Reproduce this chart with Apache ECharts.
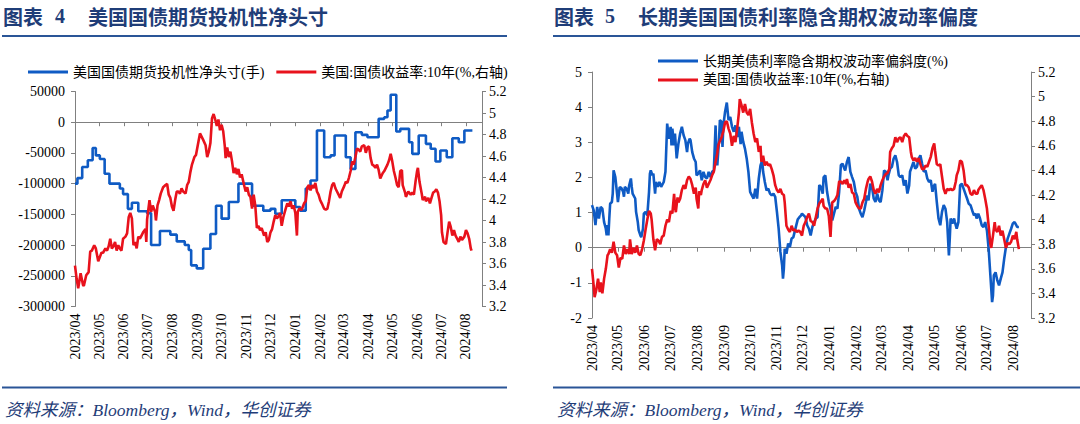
<!DOCTYPE html>
<html><head><meta charset="utf-8">
<script src="https://cdn.jsdelivr.net/npm/echarts@6.0.0/dist/echarts.min.js"></script>
<style>html,body{margin:0;padding:0;background:#fff}#c{width:1080px;height:424px}</style>
</head><body><div id="c"></div>
<script>
// ---- data (x = days counted from 2023-04-01) ----
const BASE_Y = 2023, BASE_M = 3, BASE_D = 1;
const X_END = '2024-08-21';

// 图表4: 美国国债期货投机性净头寸(手), weekly, held until next report
const netPosition = [[0,-100000],[3,-91000],[9,-73000],[16,-62000],[22,-42000],[26,-54000],[31,-60000],[37,-84000],[43,-100000],[56,-108000],[60,-117000],[66,-141000],[71,-131000],[79,-145000],[90,-148000],[95,-200000],[106,-177000],[119,-183000],[127,-194000],[137,-200000],[142,-208000],[145,-233000],[152,-238000],[160,-206000],[169,-182000],[176,-136000],[183,-157000],[192,-130000],[204,-100000],[221,-136000],[235,-144000],[244,-141000],[250,-149000],[258,-127000],[275,-138000],[281,-144000],[288,-108000],[294,-95000],[302,-13500],[311,-57000],[319,-54000],[324,-21700],[338,-57000],[344,-76000],[350,-16300],[358,-20600],[365,-24400],[379,5500],[386,8200],[390,19000],[394,44600],[401,-15100],[406,-10800],[417,-32500],[421,-51500],[429,-21700],[438,-35200],[444,-43300],[450,-64000],[456,-46000],[464,-57000],[471,-26000],[479,-32500],[486,-13500],[496,-13500]];

// 图表4: 美国:国债收益率:10年(%)
const yieldLeft = [[0,3.58],[2,3.46],[4,3.37],[7,3.51],[10,3.40],[11,3.39],[14,3.49],[17,3.52],[19,3.71],[21,3.72],[24,3.77],[26,3.74],[29,3.62],[33,3.70],[35,3.70],[38,3.74],[40,3.72],[42,3.76],[44,3.83],[46,3.74],[48,3.76],[50,3.80],[52,3.72],[54,3.77],[56,3.74],[58,3.72],[60,3.83],[63,3.85],[65,3.88],[67,4.03],[69,4.07],[71,4.02],[73,3.77],[75,3.80],[77,3.74],[79,3.85],[81,3.83],[83,3.86],[85,3.89],[88,3.92],[89,3.80],[90,4.01],[93,4.19],[95,4.08],[97,4.14],[100,4.08],[101,4.00],[103,4.14],[105,4.19],[107,4.25],[110,4.31],[113,4.33],[115,4.34],[117,4.24],[119,4.21],[121,4.13],[123,4.09],[125,4.19],[127,4.27],[129,4.27],[131,4.25],[133,4.30],[135,4.27],[138,4.25],[140,4.33],[142,4.36],[144,4.45],[146,4.52],[149,4.59],[151,4.61],[154,4.73],[156,4.81],[158,4.78],[160,4.75],[163,4.70],[165,4.59],[167,4.64],[169,4.72],[171,4.95],[173,4.99],[175,4.94],[177,4.88],[179,4.94],[181,4.84],[183,4.89],[185,4.83],[187,4.69],[188,4.58],[190,4.68],[192,4.59],[194,4.64],[196,4.55],[198,4.44],[200,4.49],[202,4.43],[204,4.48],[206,4.40],[208,4.43],[211,4.33],[213,4.27],[215,4.31],[217,4.24],[219,4.22],[221,4.11],[223,4.24],[225,4.14],[227,3.93],[229,3.95],[231,3.91],[233,3.93],[236,3.86],[238,3.89],[240,3.80],[242,3.82],[244,3.89],[246,3.92],[248,3.99],[250,4.05],[252,4.02],[254,4.04],[256,4.07],[258,3.95],[260,4.03],[263,4.11],[265,4.16],[267,4.13],[269,4.18],[271,4.11],[273,4.14],[275,4.07],[277,3.86],[278,4.08],[280,4.11],[283,4.10],[286,4.16],[288,4.18],[290,4.31],[292,4.33],[294,4.28],[296,4.33],[298,4.30],[300,4.35],[302,4.27],[304,4.24],[306,4.19],[308,4.16],[311,4.11],[313,4.10],[315,4.11],[317,4.18],[319,4.27],[321,4.33],[323,4.35],[325,4.30],[327,4.27],[329,4.24],[331,4.21],[333,4.27],[336,4.32],[338,4.36],[340,4.35],[342,4.40],[344,4.46],[346,4.55],[348,4.52],[350,4.59],[352,4.67],[354,4.66],[356,4.64],[358,4.69],[361,4.70],[363,4.63],[365,4.68],[367,4.69],[369,4.58],[371,4.52],[373,4.51],[375,4.49],[377,4.52],[379,4.47],[381,4.39],[384,4.44],[386,4.46],[388,4.49],[390,4.52],[392,4.56],[394,4.62],[396,4.55],[398,4.46],[400,4.40],[402,4.33],[404,4.31],[406,4.46],[408,4.47],[409,4.33],[412,4.26],[413,4.22],[416,4.27],[419,4.24],[421,4.26],[423,4.24],[425,4.36],[427,4.46],[428,4.49],[430,4.36],[433,4.24],[434,4.19],[437,4.22],[438,4.18],[441,4.21],[443,4.16],[445,4.21],[447,4.26],[449,4.27],[451,4.29],[453,4.26],[455,4.18],[457,4.05],[458,3.89],[460,3.80],[463,3.78],[465,3.89],[467,3.99],[469,3.94],[471,3.86],[473,3.91],[475,3.86],[477,3.83],[479,3.80],[481,3.85],[483,3.82],[486,3.85],[488,3.91],[490,3.88],[492,3.83],[494,3.74],[495,3.72]];

// 图表5: 长期美债利率隐含期权波动率偏斜度(%)
const skewRight = [[0,1.21],[2,1.06],[4,0.64],[6,1.16],[8,0.83],[10,1.16],[12,1.11],[14,0.73],[16,0.54],[17,0.35],[18,0.64],[19,0.35],[20,0.83],[21,1.25],[23,1.30],[24,1.54],[25,2.20],[27,2.01],[29,1.54],[30,1.30],[32,1.72],[34,1.70],[36,1.59],[37,1.45],[38,1.73],[40,1.68],[42,1.54],[43,1.77],[45,1.97],[46,1.73],[47,1.54],[50,1.40],[51,1.02],[53,0.73],[54,0.50],[56,0.35],[57,0.30],[59,0.54],[60,0.97],[62,1.02],[64,0.92],[66,1.59],[67,2.10],[68,2.20],[70,2.06],[71,2.11],[73,1.54],[74,1.87],[76,1.73],[78,1.87],[80,1.73],[83,1.87],[85,2.16],[87,3.53],[89,3.10],[91,3.44],[92,2.91],[93,3.39],[95,2.91],[96,3.25],[98,2.54],[100,2.96],[102,3.25],[104,3.44],[106,3.20],[108,3.06],[110,2.72],[111,2.96],[113,3.10],[114,3.06],[116,2.72],[118,2.54],[120,2.44],[121,2.06],[123,2.11],[125,2.20],[127,1.92],[129,2.16],[131,2.01],[133,1.97],[135,2.16],[137,2.01],[139,2.16],[141,2.20],[143,3.48],[144,2.63],[145,2.34],[147,3.06],[148,3.63],[150,3.58],[151,2.87],[152,3.48],[154,3.87],[156,4.13],[158,3.63],[160,3.72],[162,3.44],[164,3.30],[166,3.48],[168,3.15],[170,3.44],[172,2.95],[173,3.30],[175,3.01],[177,2.82],[179,2.54],[181,2.16],[183,1.59],[185,1.49],[187,1.40],[189,1.68],[191,1.40],[193,1.97],[195,2.34],[197,2.49],[198,2.16],[200,1.87],[202,1.63],[204,1.68],[206,1.54],[208,1.49],[210,1.54],[212,1.45],[214,1.02],[216,0.54],[218,-0.12],[220,-0.50],[221,-0.88],[222,-0.60],[223,-0.03],[225,-0.17],[227,0.12],[229,0.02],[231,0.26],[233,0.30],[235,0.50],[236,0.60],[238,0.80],[240,0.87],[242,0.92],[243,0.97],[245,0.92],[247,0.87],[249,0.64],[251,0.54],[253,0.35],[255,0.59],[257,0.73],[259,0.83],[261,0.87],[263,1.78],[265,1.73],[267,1.54],[268,2.00],[270,2.06],[272,1.59],[274,1.30],[276,1.11],[278,0.78],[280,0.97],[282,1.16],[284,1.11],[286,1.59],[288,2.35],[290,2.39],[292,2.25],[293,2.20],[295,2.44],[297,2.58],[299,2.16],[301,2.01],[303,1.87],[305,1.59],[307,1.45],[309,1.11],[311,0.97],[313,0.87],[315,1.06],[317,1.30],[318,1.49],[320,1.35],[322,1.82],[324,1.73],[326,1.40],[328,1.30],[330,1.54],[332,1.35],[334,1.30],[336,1.63],[338,2.20],[340,2.16],[342,1.92],[343,2.06],[345,2.25],[347,2.30],[349,2.53],[351,2.63],[353,2.44],[355,2.06],[357,2.01],[359,2.06],[361,1.77],[363,1.92],[365,1.54],[367,1.77],[368,2.16],[370,2.30],[372,2.44],[374,2.25],[376,2.30],[378,2.53],[380,2.63],[382,2.39],[384,2.16],[386,2.20],[388,1.97],[390,1.87],[392,1.92],[394,1.59],[395,1.73],[397,1.82],[399,1.30],[401,0.83],[403,0.64],[405,1.02],[407,1.21],[409,1.11],[411,0.73],[413,-0.22],[414,0.26],[415,0.83],[417,0.69],[419,0.83],[420,0.73],[422,0.54],[424,0.73],[426,1.78],[428,1.82],[430,1.68],[432,1.54],[434,1.40],[436,1.25],[438,1.21],[440,1.06],[442,0.92],[444,0.97],[445,0.83],[447,0.97],[449,0.83],[451,0.64],[453,0.59],[455,0.73],[457,0.49],[459,-0.03],[461,-0.79],[463,-1.55],[464,-1.36],[465,-0.79],[467,-0.70],[469,-0.93],[471,-1.07],[473,-0.88],[475,-0.70],[477,-0.31],[479,0.02],[481,0.26],[483,0.40],[485,0.54],[487,0.69],[489,0.73],[491,0.64],[492,0.59],[494,0.59]];

// 图表5: 美国:国债收益率:10年(%)
const yieldRight = [[0,3.60],[2,3.46],[3,3.37],[5,3.43],[7,3.52],[9,3.41],[10,3.49],[12,3.40],[14,3.52],[16,3.60],[18,3.71],[19,3.72],[21,3.76],[23,3.73],[25,3.82],[27,3.73],[29,3.71],[31,3.61],[33,3.69],[35,3.68],[37,3.79],[39,3.72],[41,3.76],[43,3.72],[44,3.84],[46,3.72],[48,3.77],[50,3.73],[52,3.79],[54,3.72],[56,3.71],[58,3.76],[60,3.83],[62,3.92],[64,4.00],[66,4.07],[68,4.05],[69,4.00],[70,3.92],[71,3.84],[73,3.75],[75,3.84],[77,3.83],[79,3.80],[81,3.86],[83,3.87],[85,3.95],[87,4.00],[89,3.98],[91,4.07],[93,4.05],[95,4.21],[96,4.11],[97,4.06],[99,4.18],[100,4.14],[102,4.17],[104,4.24],[106,4.28],[108,4.25],[110,4.32],[112,4.35],[114,4.33],[116,4.28],[118,4.21],[120,4.26],[121,4.17],[123,4.09],[124,4.23],[126,4.20],[127,4.24],[129,4.29],[131,4.32],[133,4.26],[135,4.29],[137,4.32],[139,4.36],[141,4.39],[143,4.47],[145,4.54],[146,4.60],[148,4.64],[150,4.67],[152,4.72],[154,4.79],[156,4.80],[158,4.74],[160,4.70],[162,4.60],[164,4.68],[166,4.63],[168,4.74],[170,4.87],[171,4.98],[173,4.93],[175,4.87],[177,4.94],[179,4.87],[181,4.85],[183,4.90],[185,4.79],[187,4.70],[189,4.63],[191,4.66],[193,4.55],[195,4.60],[196,4.47],[198,4.52],[200,4.44],[202,4.47],[204,4.44],[206,4.45],[208,4.41],[210,4.36],[212,4.28],[214,4.24],[216,4.22],[218,4.25],[220,4.21],[222,4.20],[223,4.14],[225,3.95],[227,3.92],[229,3.90],[231,3.95],[233,3.91],[235,3.92],[237,3.90],[239,3.91],[241,3.90],[243,3.87],[245,3.95],[247,3.98],[249,4.02],[251,4.05],[253,3.99],[255,3.98],[257,3.95],[259,4.02],[261,4.09],[263,4.13],[265,4.15],[267,4.17],[268,4.11],[270,4.09],[272,4.09],[274,4.03],[276,3.86],[278,4.14],[280,4.15],[282,4.17],[284,4.20],[286,4.31],[288,4.31],[290,4.29],[292,4.32],[294,4.29],[295,4.33],[297,4.26],[299,4.29],[301,4.22],[303,4.21],[305,4.14],[307,4.11],[309,4.09],[311,4.09],[313,4.14],[315,4.17],[317,4.25],[319,4.31],[320,4.33],[322,4.35],[324,4.31],[326,4.24],[328,4.21],[330,4.25],[332,4.22],[334,4.28],[336,4.32],[338,4.35],[340,4.37],[342,4.38],[344,4.41],[345,4.55],[347,4.58],[349,4.60],[351,4.67],[353,4.63],[355,4.66],[357,4.67],[359,4.63],[361,4.68],[363,4.70],[365,4.68],[367,4.67],[369,4.55],[370,4.51],[372,4.48],[374,4.50],[376,4.47],[378,4.50],[380,4.45],[382,4.41],[384,4.41],[386,4.44],[388,4.43],[390,4.47],[392,4.51],[394,4.58],[396,4.62],[397,4.56],[399,4.45],[401,4.44],[403,4.45],[405,4.35],[407,4.25],[409,4.21],[411,4.25],[413,4.24],[415,4.25],[417,4.24],[419,4.25],[421,4.31],[422,4.36],[424,4.40],[426,4.48],[428,4.47],[430,4.40],[432,4.28],[434,4.28],[436,4.26],[438,4.21],[440,4.20],[442,4.24],[444,4.21],[446,4.21],[447,4.24],[449,4.26],[451,4.28],[453,4.24],[455,4.17],[457,4.09],[459,3.95],[461,3.80],[462,3.77],[464,3.87],[466,3.98],[467,3.92],[469,3.90],[471,3.95],[473,3.87],[475,3.91],[477,3.84],[479,3.77],[481,3.81],[483,3.80],[485,3.82],[487,3.87],[489,3.84],[491,3.90],[492,3.84],[494,3.76]];

const NAME_POS = '美国国债期货投机性净头寸(手)';
const NAME_YLD = '美国:国债收益率:10年(%,右轴)';
const NAME_SKEW = '长期美债利率隐含期权波动率偏斜度(%)';

// ---- rendering ----
const DAY = 86400000;
const toTime = d => new Date(BASE_Y, BASE_M, BASE_D + d).getTime();
const toSeries = arr => arr.map(p => [toTime(p[0]), p[1]]);
const xMin = toTime(0);
const xMax = new Date(X_END + 'T00:00:00').getTime();

const SERIF = '"Liberation Serif","Times New Roman","Noto Sans CJK SC",serif';
const BLUE = '#0F5BC4', RED = '#E8121C', NAVY = '#1F3D78', RULE = '#2A5597', AXIS = '#808080';

const fmtMonth = v => { const d = new Date(v); return d.getFullYear() + '/' + String(d.getMonth() + 1).padStart(2, '0'); };

function xPair(g) {
  const common = { type: 'time', gridIndex: g, min: xMin, max: xMax, splitNumber: 17,
    minInterval: 28 * DAY, maxInterval: 31 * DAY, splitLine: { show: false } };
  return [
    Object.assign({}, common, { position: 'bottom', axisLine: { show: false, onZero: false }, axisTick: { show: false },
      axisLabel: { rotate: 90, margin: 7, fontFamily: SERIF, fontSize: 14, color: '#000', formatter: fmtMonth, hideOverlap: false } }),
    Object.assign({}, common, { position: 'bottom', axisLine: { show: true, onZero: true, lineStyle: { color: AXIS, width: 1 } },
      axisTick: { show: true, length: 4, lineStyle: { color: AXIS } }, axisLabel: { show: false } })
  ];
}
function yAx(g, pos, min, max, interval, fmt, margin) {
  return { type: 'value', gridIndex: g, position: pos, min: min, max: max, interval: interval,
    axisLine: { show: true, onZero: false, lineStyle: { color: AXIS, width: 1 } },
    axisTick: { show: true, length: 4, lineStyle: { color: AXIS } }, splitLine: { show: false },
    axisLabel: { margin: margin, fontFamily: SERIF, fontSize: 14, color: '#000', formatter: fmt } };
}
const fmtInt = v => String(Math.round(v));
const fmtDec = v => String(Math.round(v * 10) / 10);

function line(name, data, xi, yi, color, step) {
  return { name: name, type: 'line', xAxisIndex: xi, yAxisIndex: yi, data: toSeries(data), step: step || false,
    symbol: 'none', showSymbol: false, animation: false, lineStyle: { width: 2.6, color: color },
    itemStyle: { color: color }, emphasis: { disabled: true } };
}
function txt(x, y, text, font) {
  return { type: 'text', x: x, y: y, style: { text: text, font: font, fill: NAVY, textVerticalAlign: 'middle', verticalAlign: 'middle' } };
}
function rule(x1, x2, y) {
  return { type: 'line', shape: { x1: x1, y1: y, x2: x2, y2: y }, style: { stroke: RULE, lineWidth: 2 } };
}
const TF = 'bold 20px "Noto Sans CJK SC",sans-serif';
const NF = 'bold 20px "Liberation Serif",serif';
const FF = 'italic 17.5px "Liberation Serif","Noto Sans CJK SC",serif';
const LEG = { icon: 'rect', itemWidth: 40, itemHeight: 3, selectedMode: false,
  textStyle: { fontFamily: SERIF, fontSize: 14, color: '#000' } };

const chart = echarts.init(document.getElementById('c'), null, { renderer: 'svg', width: 1080, height: 424 });
chart.setOption({
  animation: false,
  backgroundColor: '#fff',
  grid: [
    { left: 75, top: 91.5, width: 407, height: 215, containLabel: false, outerBoundsMode: 'none' },
    { left: 592, top: 72, width: 439, height: 246, containLabel: false, outerBoundsMode: 'none' }
  ],
  xAxis: xPair(0).concat(xPair(1)),
  yAxis: [
    yAx(0, 'left', -300000, 50000, 50000, fmtInt, 10),
    yAx(0, 'right', 3.2, 5.2, 0.2, fmtDec, 7),
    yAx(1, 'left', -2, 5, 1, fmtInt, 10),
    yAx(1, 'right', 3.2, 5.2, 0.2, fmtDec, 7)
  ],
  legend: [
    Object.assign({}, LEG, { left: 23, top: 60, itemGap: 12, data: [NAME_POS, NAME_YLD] }),
    Object.assign({}, LEG, { left: 653, top: 49, orient: 'vertical', itemGap: 5, data: [NAME_SKEW, NAME_YLD] })
  ],
  series: [
    line(NAME_POS, netPosition, 0, 0, BLUE, 'end'),
    line(NAME_YLD, yieldLeft, 0, 1, RED),
    line(NAME_SKEW, skewRight, 2, 2, BLUE),
    line(NAME_YLD, yieldRight, 2, 3, RED)
  ],
  graphic: [
    txt(3, 16, '图表', TF), txt(55, 16, '4', NF), txt(88, 16, '美国国债期货投机性净头寸', TF),
    txt(554, 16, '图表', TF), txt(605, 16, '5', NF), txt(638, 16, '长期美国国债利率隐含期权波动率偏度', TF),
    rule(2, 507, 36), rule(553, 1080, 36),
    rule(2, 507, 387.5), rule(553, 1080, 387.5),
    txt(5, 410, '资料来源：Bloomberg，Wind，华创证券', FF),
    txt(557, 410, '资料来源：Bloomberg，Wind，华创证券', FF)
  ]
});
</script></body></html>
